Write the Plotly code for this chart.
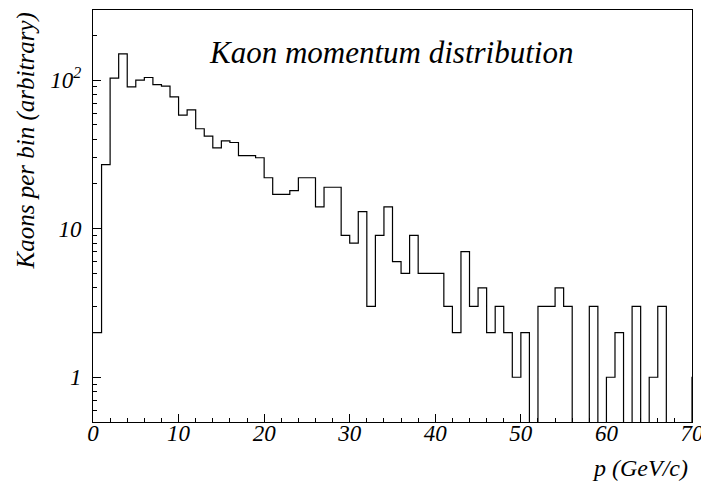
import math
import plotly.graph_objects as go

# Kaon momentum histogram: 1 GeV/c bins from 0 to 70, plus one overflow bin
bin_low_edges = list(range(0, 70))
kaon_counts = [
    2, 27, 103, 150, 90, 100, 104, 93, 91, 77,
    58, 63, 47, 42, 35, 39, 38, 31, 31, 30,
    22, 17, 17, 18, 22, 22, 14, 19, 19, 9,
    8, 13, 3, 9, 14, 6, 5, 9, 5, 5,
    5, 3, 2, 7, 3, 4, 2, 3, 2, 1,
    2, 0, 3, 3, 4, 3, 0, 0, 3, 0,
    1, 2, 0, 3, 0, 1, 3, 0, 0, 0,
]
overflow_count = 1
bin_width = 1.0

y_tick_vals = [1, 10, 100]
y_tick_text = ["1", "10", "10<sup>2</sup>"]
x_tick_vals = [0, 10, 20, 30, 40, 50, 60, 70]
x_tick_text = ["0", "10", "20", "30", "40", "50", "60", "70"]

y_lo, y_hi = 0.5, 296.0
x_lo, x_hi = 0.0, 70.0

# Step outline: each bin drawn from its low edge, empty bins dropped below the axis
floor = 0.02
xs = list(bin_low_edges) + [x_hi]
ys = [c if c > 0 else floor for c in kaon_counts] + [overflow_count if overflow_count > 0 else floor]
xs.append(x_hi + bin_width)
ys.append(ys[-1])

serif = "Liberation Serif"

fig = go.Figure()
fig.add_trace(go.Scatter(
    x=xs, y=ys, mode="lines",
    line=dict(shape="hv", color="#000000", width=1.2),
    hoverinfo="skip", showlegend=False,
))

# Minor tick positions: 2..9 of every decade, and every 2 GeV/c
y_minor = [m * d for d in (0.1, 1, 10, 100) for m in range(2, 10)]
y_minor = [v for v in y_minor if y_lo <= v <= y_hi]
x_minor = [v for v in range(0, 71, 2) if v % 10 != 0]

fig.update_layout(
    width=701, height=487,
    margin=dict(l=93, r=9, t=10, b=65),
    paper_bgcolor="white", plot_bgcolor="white",
    font=dict(family=serif, size=24, color="black", style="italic"),
    xaxis=dict(
        range=[x_lo, x_hi], showgrid=False, zeroline=False, automargin=False,
        tickvals=x_tick_vals, ticktext=x_tick_text,
        ticks="inside", ticklen=8, tickwidth=1, tickcolor="black",
        minor=dict(tickvals=x_minor, ticks="inside", ticklen=4, tickwidth=1, tickcolor="black"),
        showline=True, linecolor="black", linewidth=1, mirror=True,
        tickfont=dict(family=serif, size=23, style="italic"),
        ticklabeloverflow="allow", ticklabelstandoff=-10,
    ),
    yaxis=dict(
        type="log", range=[math.log10(y_lo), math.log10(y_hi)],
        showgrid=False, zeroline=False, automargin=False,
        tickvals=y_tick_vals, ticktext=y_tick_text,
        ticks="inside", ticklen=8, tickwidth=1, tickcolor="black",
        minor=dict(tickvals=y_minor, ticks="inside", ticklen=4, tickwidth=1, tickcolor="black"),
        showline=True, linecolor="black", linewidth=1, mirror=True,
        tickfont=dict(family=serif, size=23, style="italic"),
        ticklabelstandoff=6,
    ),
    annotations=[
        dict(text="Kaon momentum distribution", xref="paper", yref="paper",
             x=0.498, y=0.897, xanchor="center", yanchor="middle", showarrow=False,
             font=dict(family=serif, size=31, style="italic")),
        dict(text="p (GeV/c)", xref="paper", yref="paper",
             x=0.997, y=-0.1117, xanchor="right", yanchor="middle", showarrow=False,
             font=dict(family=serif, size=24, style="italic")),
        dict(text="Kaons per bin (arbitrary)", xref="paper", yref="paper",
             x=-0.112, y=1.0, xanchor="center", yanchor="top", textangle=-90,
             showarrow=False, font=dict(family=serif, size=25, style="italic")),
    ],
)

fig.write_html("out.html")
